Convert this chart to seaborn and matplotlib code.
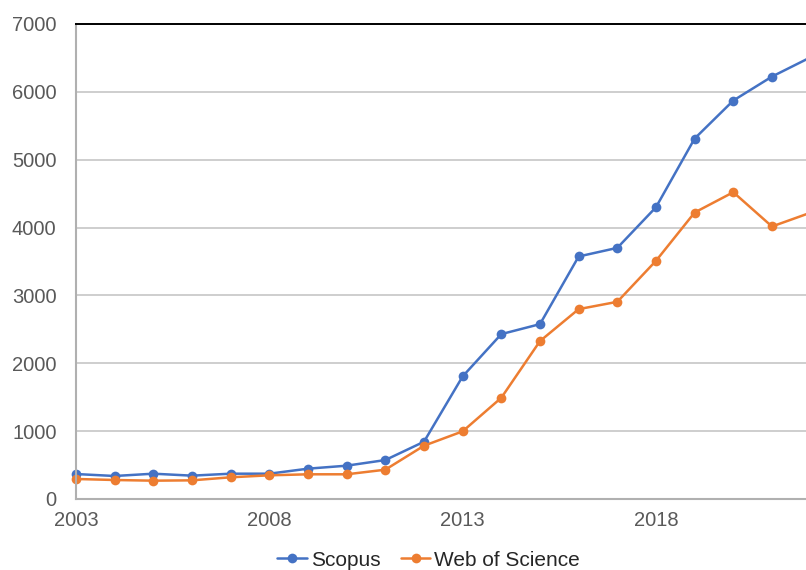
import numpy as np
import pandas as pd
import matplotlib
matplotlib.use('Agg')
import matplotlib.pyplot as plt
import seaborn as sns

# publications per year
years = list(range(2003, 2023))
scopus = [368, 339, 373, 344, 373, 373, 447, 491, 574, 844,
          1807, 2430, 2577, 3574, 3701, 4300, 5312, 5872, 6225, 6510]
wos = [295, 280, 270, 275, 320, 349, 364, 364, 432, 785,
       997, 1492, 2327, 2798, 2906, 3510, 4222, 4521, 4016, 4220]

df = pd.DataFrame({
    'Year': years * 2,
    'Count': scopus + wos,
    'Source': ['Scopus'] * len(years) + ['Web of Science'] * len(years),
})

sns.set_style('white')
plt.rcParams['font.family'] = ['Liberation Sans', 'DejaVu Sans']

fig = plt.figure(figsize=(8.06, 5.70), dpi=100)
ax = fig.add_axes([76 / 806, 1 - 499 / 570, 1 - 76 / 806, (499 - 24) / 570])

palette = {'Scopus': '#4472C4', 'Web of Science': '#ED7D31'}
sns.lineplot(data=df, x='Year', y='Count', hue='Source', palette=palette,
             marker='o', markersize=7, markeredgewidth=0, linewidth=1.8,
             ax=ax, legend=False, clip_on=False)

ax.set_xlim(2003, 2021.88)
ax.set_ylim(0, 7000)
ax.set_xticks([2003, 2008, 2013, 2018])
ax.set_yticks(range(0, 7001, 1000))
ax.set_xlabel('')
ax.set_ylabel('')
ax.tick_params(axis='both', length=0, labelsize=14.5, labelcolor='#595959')
ax.tick_params(axis='x', pad=9)
ax.tick_params(axis='y', pad=14)

ax.yaxis.grid(True, color='#c6c6c6', linewidth=1.2)
ax.set_axisbelow(True)
for side in ['left', 'bottom']:
    ax.spines[side].set_color('#b0b0b0')
    ax.spines[side].set_linewidth(1.5)
ax.spines['right'].set_visible(False)
ax.spines['top'].set_color('#000000')
ax.spines['top'].set_linewidth(1.4)

handles = [plt.Line2D([], [], color=palette[k], marker='o', markersize=7,
                      markeredgewidth=0, linewidth=1.8) for k in palette]
fig.legend(handles, list(palette.keys()), loc='center', ncol=2,
           bbox_to_anchor=(0.532, 1 - 560 / 570), frameon=False,
           fontsize=15, handlelength=1.4, handletextpad=0.2, columnspacing=1.0)

fig.savefig('out.png', dpi=100)
